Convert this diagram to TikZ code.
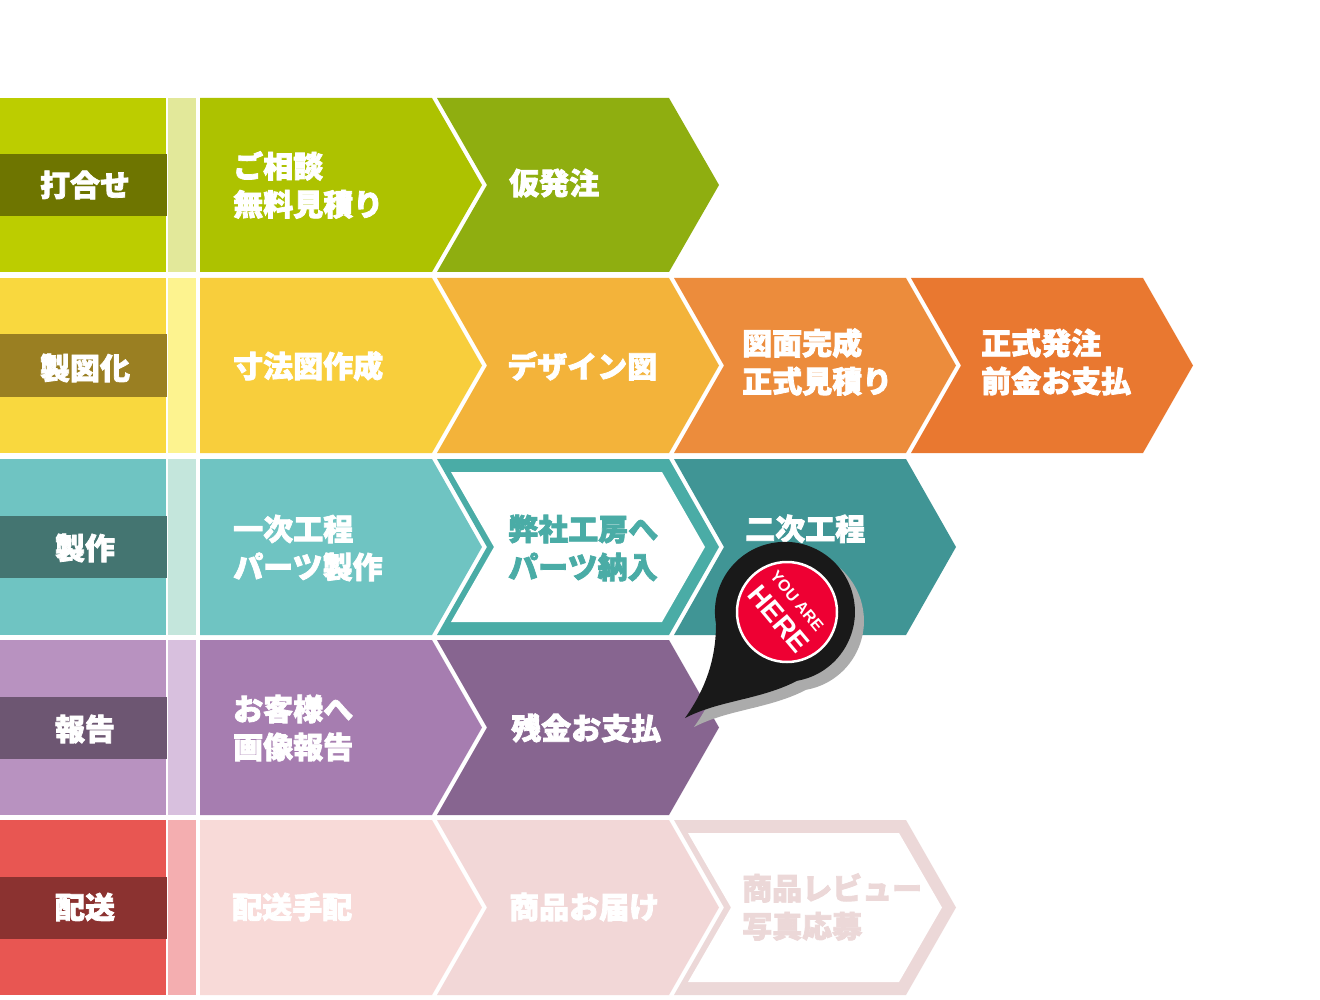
\documentclass[tikz,border=0pt]{standalone}
\usepackage{fontspec}
\setmainfont{Noto Sans CJK JP}
\newfontfamily\jp{Noto Sans CJK JP}[BoldFeatures={FakeBold=2.5}]
\setsansfont{Liberation Sans}
\newcommand\chevF[3]{(#1,#2) -- (#1+232,#2) -- (#1+282,{(#2+#3)/2}) -- (#1+232,#3) -- (#1,#3) -- cycle}
\newcommand\chevN[3]{(#1,#2) -- (#1+232,#2) -- (#1+282,{(#2+#3)/2}) -- (#1+232,#3) -- (#1,#3) -- (#1+50,{(#2+#3)/2}) -- cycle}
\newcommand\chevI[3]{(#1,#2) -- (#1+211,#2) -- (#1+254,{(#2+#3)/2}) -- (#1+211,#3) -- (#1,#3) -- (#1+43,{(#2+#3)/2}) -- cycle}
\begin{document}
\begin{tikzpicture}[x=1pt,y=-1pt,
  txt/.style={text=white,font=\jp\bfseries\fontsize{30}{38}\selectfont,align=left,anchor=west,inner sep=0pt},
  lbl/.style={text=white,font=\jp\bfseries\fontsize{30}{38}\selectfont,inner sep=0pt}]
\useasboundingbox (0,0) rectangle (1320,1000);
\fill[white] (0,0) rectangle (1320,1000);
\foreach \t/\b/\cb/\cs/\cl in {98/272/BCCD00/E2E89A/6E7500, 278/453/F9D83E/FDF38F/9A7F22, 459/635/6FC4C2/C4E6DC/447571, 640/815/B892C0/D8C0DE/6D5672, 820/995/E85652/F4AEB0/8B3230}{
  \definecolor{cb}{HTML}{\cb}\definecolor{cs}{HTML}{\cs}\definecolor{cl}{HTML}{\cl}
  \fill[cb] (0,\t) rectangle (166,\b);
  \fill[cs] (168,\t) rectangle (196,\b);
  \fill[cl] (0,{(\t+\b)/2-31}) rectangle (167,{(\t+\b)/2+31});
}
\definecolor{a1}{HTML}{ADC200}\definecolor{a2}{HTML}{8FAE10}
\definecolor{b1}{HTML}{F8CE3C}\definecolor{b2}{HTML}{F3B33A}\definecolor{b3}{HTML}{EC8C3C}\definecolor{b4}{HTML}{E97830}
\definecolor{c1}{HTML}{6FC4C2}\definecolor{c2}{HTML}{4AACA6}\definecolor{c3}{HTML}{409595}
\definecolor{d1}{HTML}{A67DB0}\definecolor{d2}{HTML}{876590}
\definecolor{e1}{HTML}{F8DAD8}\definecolor{e2}{HTML}{F2D7D7}\definecolor{e3}{HTML}{ECD8D8}
\fill[a1] \chevF{200}{98}{272};
\fill[a2] \chevN{437}{98}{272};
\fill[b1] \chevF{200}{278}{453};
\fill[b2] \chevN{437}{278}{453};
\fill[b3] \chevN{674}{278}{453};
\fill[b4] \chevN{911}{278}{453};
\fill[c1] \chevF{200}{459}{635};
\fill[c2] \chevN{437}{459}{635};
\fill[white] \chevI{451}{472}{622};
\fill[c3] \chevN{674}{459}{635};
\fill[d1] \chevF{200}{640}{815};
\fill[d2] \chevN{437}{640}{815};
\fill[e1] \chevF{200}{820}{995};
\fill[e2] \chevN{437}{820}{995};
\fill[e3] \chevN{674}{820}{995};
\fill[white] \chevI{688}{833}{982};
\node[lbl] (l1) at (85,185) {打合せ};
\node[lbl] (l2) at (85,368) {製図化};
\node[lbl] (l3) at (85,548) {製作};
\node[lbl] (l4) at (85,729) {報告};
\node[lbl] (l5) at (85,907) {配送};
\node[txt] (t11) at (233,185) {ご相談\\無料見積り};
\node[txt] (t12) at (509,183) {仮発注};
\node[txt] (t21) at (233,366) {寸法図作成};
\node[txt] (t22) at (507,366) {デザイン図};
\node[txt] (t23) at (742,362) {図面完成\\正式見積り};
\node[txt] (t24) at (981,362) {正式発注\\前金お支払};
\node[txt] (t31) at (233,548) {一次工程\\パーツ製作};
\node[txt,text=c2] (t32) at (508,548) {弊社工房へ\\パーツ納入};
\node[txt] (t33) at (745,548) {二次工程\\完成};
\node[txt] (t41) at (233,728) {お客様へ\\画像報告};
\node[txt] (t42) at (511,728) {残金お支払};
\node[txt] (t51) at (232,907) {配送手配};
\node[txt] (t52) at (509,907) {商品お届け};
\node[txt,text=e3] (t53) at (742,907) {商品レビュー\\写真応募};
\begin{scope}[shift={(9,9)}]
\fill[black!33] (685,718) .. controls (705,690) and (716,660) .. (716,624) arc[start angle=170,end angle=440,radius=70] .. controls (760,700) and (720,700) .. (685,718) -- cycle;
\end{scope}
\fill[black!90] (685,718) .. controls (705,690) and (716,660) .. (716,624) arc[start angle=170,end angle=440,radius=70] .. controls (760,700) and (720,700) .. (685,718) -- cycle;
\definecolor{pinred}{HTML}{EE0033}
\filldraw[fill=pinred,draw=white,line width=2.5pt] (787,612) circle[radius=50];
\node[rotate=-50,text=white,font=\sffamily\bfseries\fontsize{16}{16}\selectfont,inner sep=0pt] (pin1) at (797,601) {YOU ARE};
\node[rotate=-50,text=white,font=\sffamily\bfseries\fontsize{28}{28}\selectfont,inner sep=0pt] (pin2) at (779,619) {HERE};
\end{tikzpicture}
\end{document}
